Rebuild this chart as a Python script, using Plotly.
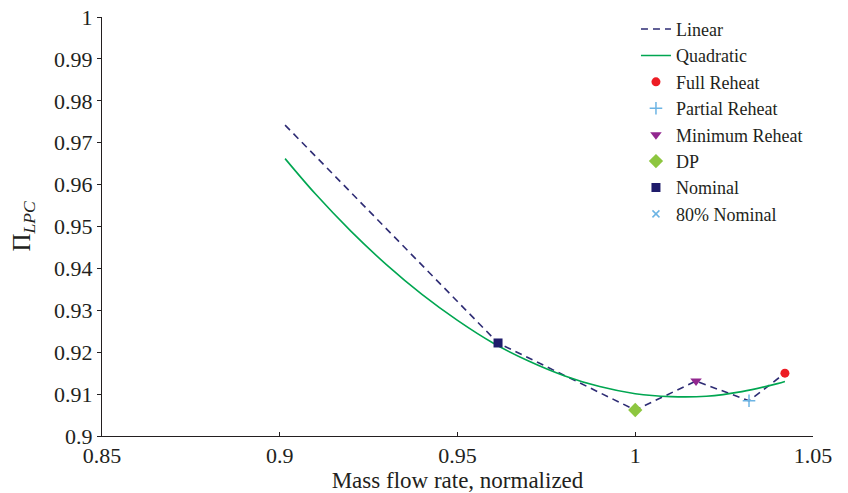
import plotly.graph_objects as go

# Data
linear_x = [0.9015, 0.9614, 1.0, 1.0171, 1.032, 1.0421]
linear_y = [0.9742, 0.9222, 0.9062, 0.9131, 0.9084, 0.9150]

quad_x = [0.9015, 0.91, 0.92, 0.93, 0.94, 0.95, 0.96, 0.97, 0.98, 0.99, 1.00, 1.01, 1.02, 1.03, 1.04, 1.0421]
quad_y = [0.9662, 0.9578, 0.9489, 0.9409, 0.9338, 0.9276, 0.9222, 0.9179, 0.9144, 0.9118, 0.9101, 0.9094, 0.9095, 0.9106, 0.9125, 0.9130]

full_reheat_x = [1.0421]
full_reheat_y = [0.9150]
partial_reheat_x = [1.032]
partial_reheat_y = [0.9084]
min_reheat_x = [1.0171]
min_reheat_y = [0.9131]
dp_x = [1.0]
dp_y = [0.9062]
nominal_x = [0.9614]
nominal_y = [0.9222]
nom80_x = [None]   # no visible point in the reference
nom80_y = [None]

x_ticks = [0.85, 0.9, 0.95, 1.0, 1.05]
x_ticktext = ["0.85", "0.9", "0.95", "1", "1.05"]
y_ticks = [0.90, 0.91, 0.92, 0.93, 0.94, 0.95, 0.96, 0.97, 0.98, 0.99, 1.0]
y_ticktext = ["0.9", "0.91", "0.92", "0.93", "0.94", "0.95", "0.96", "0.97", "0.98", "0.99", "1"]

FONT = "Liberation Serif"
TXT = "#231f20"

fig = go.Figure()
fig.add_trace(go.Scatter(x=linear_x, y=linear_y, mode="lines", name="Linear",
                         line=dict(color="#2e2c74", width=1.6, dash="7px,5px")))
fig.add_trace(go.Scatter(x=quad_x, y=quad_y, mode="lines", name="Quadratic",
                         line=dict(color="#00a651", width=1.6, shape="spline")))
fig.add_trace(go.Scatter(x=full_reheat_x, y=full_reheat_y, mode="markers", name="Full Reheat",
                         marker=dict(symbol="circle", color="#ed1c24", size=9)))
fig.add_trace(go.Scatter(x=partial_reheat_x, y=partial_reheat_y, mode="markers", name="Partial Reheat",
                         marker=dict(symbol="cross-thin", color="#6cb4e4", size=9,
                                     line=dict(color="#6cb4e4", width=1.5))))
fig.add_trace(go.Scatter(x=min_reheat_x, y=min_reheat_y, mode="markers", name="Minimum Reheat",
                         marker=dict(symbol="triangle-down", color="#92278f", size=10)))
fig.add_trace(go.Scatter(x=dp_x, y=dp_y, mode="markers", name="DP",
                         marker=dict(symbol="diamond", color="#8dc63f", size=11)))
fig.add_trace(go.Scatter(x=nominal_x, y=nominal_y, mode="markers", name="Nominal",
                         marker=dict(symbol="square", color="#1f1c6b", size=9)))
fig.add_trace(go.Scatter(x=nom80_x, y=nom80_y, mode="markers", name="80% Nominal",
                         marker=dict(symbol="x-thin", color="#6cb4e4", size=7,
                                     line=dict(color="#6cb4e4", width=1.5))))

fig.update_layout(
    width=848, height=493,
    margin=dict(l=102, r=35, t=17, b=57, autoexpand=False),
    paper_bgcolor="white", plot_bgcolor="white",
    font=dict(family=FONT, size=22, color=TXT),
    legend=dict(x=0.751, y=0.978, yref="container", xanchor="left", yanchor="top",
                bgcolor="rgba(0,0,0,0)", font=dict(size=18, family=FONT, color=TXT),
                tracegroupgap=0, itemwidth=30),
    showlegend=True,
)
fig.update_xaxes(range=[0.85, 1.05], tickvals=x_ticks, ticktext=x_ticktext, automargin=False,
                 showgrid=False, zeroline=False, showline=True, linecolor="#231f20", linewidth=1,
                 ticks="inside", ticklen=4, tickcolor="#231f20",
                 title=dict(text="Mass flow rate, normalized", standoff=2, font=dict(size=23)),
                 tickfont=dict(size=22))
fig.update_yaxes(range=[0.9, 1.0], tickvals=y_ticks, ticktext=y_ticktext, automargin=False,
                 showgrid=False, zeroline=False, showline=True, linecolor="#231f20", linewidth=1,
                 ticks="outside", ticklen=4, tickcolor="#231f20",
                 title=dict(text="Π<sub><i>LPC</i></sub>", standoff=16, font=dict(size=25)),
                 tickfont=dict(size=22))

fig.write_html("out.html")
